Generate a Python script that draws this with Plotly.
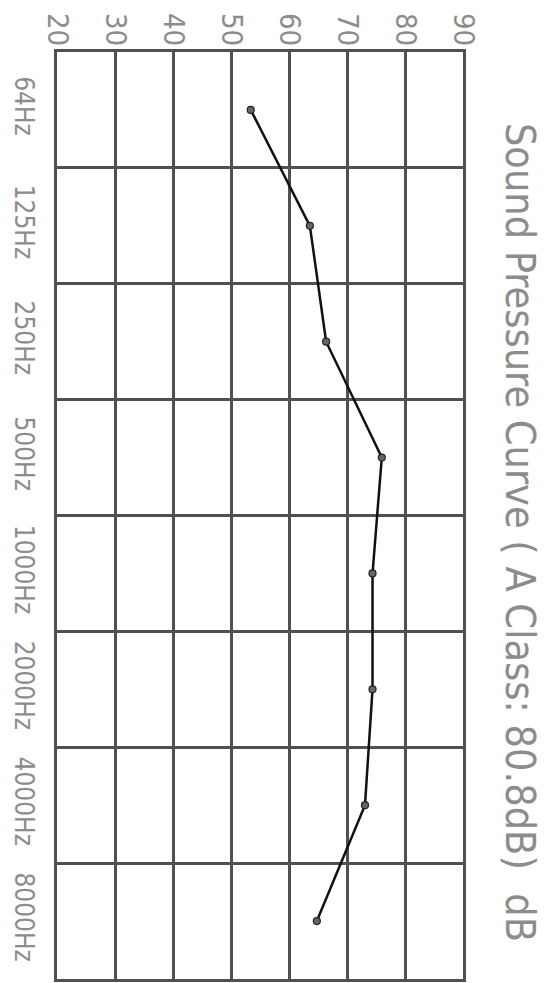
import plotly.graph_objects as go

categories = ["64Hz", "125Hz", "250Hz", "500Hz", "1000Hz", "2000Hz", "4000Hz", "8000Hz"]
spl_db = [53.4, 63.6, 66.4, 76.0, 74.4, 74.4, 73.1, 64.8]
db_ticks = [20, 30, 40, 50, 60, 70, 80, 90]
title_text = "Sound Pressure Curve ( A Class: 80.8dB)  dB"

FONT = "Liberation Sans Narrow, DejaVu Sans Condensed, Liberation Sans, sans-serif"
TXT = "#8c8c8c"
GRID = "#505050"

pos = list(range(len(categories)))

fig = go.Figure()
fig.add_trace(go.Scatter(
    x=spl_db, y=pos, mode="lines+markers",
    line=dict(color="#111111", width=2.5),
    marker=dict(symbol="circle", size=7, color="#666666",
                line=dict(color="#222222", width=1.2)),
    showlegend=False, hoverinfo="skip",
))

fig.update_layout(
    width=542, height=975,
    margin=dict(l=49, r=87, t=44, b=4),
    paper_bgcolor="white", plot_bgcolor="white",
    xaxis=dict(
        range=[20, 90], side="top", tickvals=db_ticks,
        ticktext=[str(v) for v in db_ticks],
        tickangle=90, tickfont=dict(family=FONT, size=29, color=TXT),
        showgrid=True, gridcolor=GRID, gridwidth=2.5,
        showline=True, linecolor=GRID, linewidth=2.5, mirror=True,
        ticks="outside", ticklen=1, tickcolor="rgba(0,0,0,0)",
        ticklabelstandoff=-8,
        zeroline=False, fixedrange=True, automargin=False,
    ),
    yaxis=dict(
        range=[len(categories) - 0.5, -0.5], tickvals=pos, ticktext=categories,
        tickangle=90, tickfont=dict(family=FONT, size=26, color=TXT),
        showgrid=False,
        minor=dict(tickvals=[i + 0.5 for i in pos[:-1]], showgrid=True,
                   gridcolor=GRID, gridwidth=2.5, ticks=""),
        showline=True, linecolor=GRID, linewidth=2.5, mirror=True,
        ticks="outside", ticklen=8, tickcolor="rgba(0,0,0,0)",
        zeroline=False, fixedrange=True, automargin=False,
    ),
    annotations=[dict(
        text=title_text, textangle=90, showarrow=False,
        xref="paper", yref="paper", x=1.141, y=0.482,
        xanchor="center", yanchor="middle",
        font=dict(family=FONT, size=41, color=TXT),
    )],
)

fig.write_html("out.html")
